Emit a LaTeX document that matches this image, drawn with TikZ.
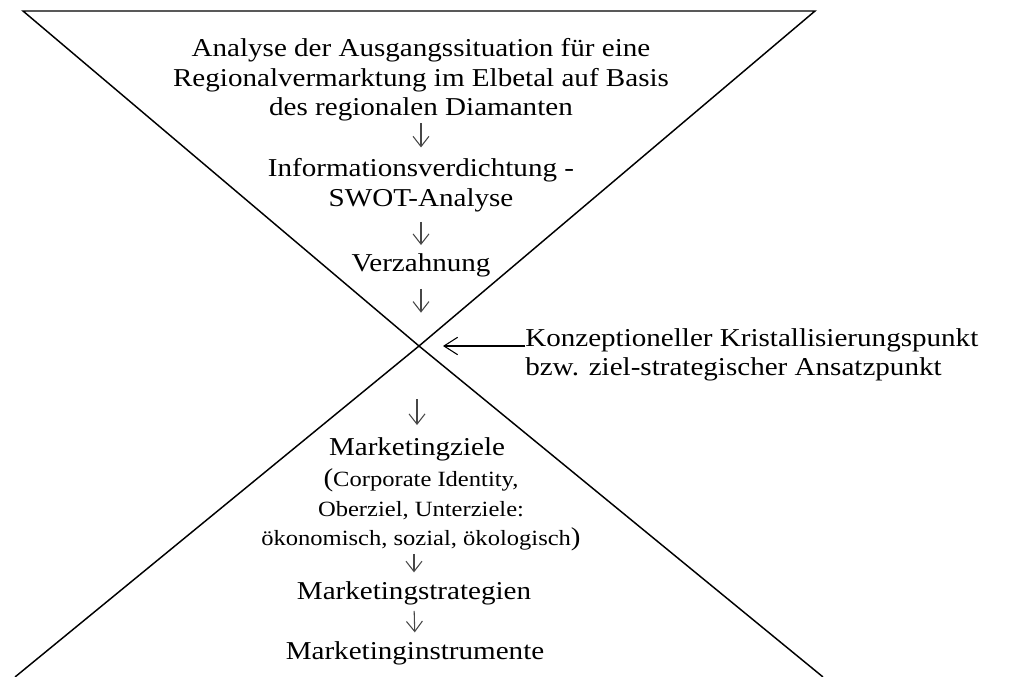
\documentclass[tikz,border=0pt]{standalone}
\usepackage{fontspec}
\setmainfont{Liberation Serif}[FakeStretch=1.13]
\usetikzlibrary{arrows.meta,positioning,calc}
\newcommand{\bigtext}{\fontsize{19.3}{22.2}\selectfont}
\newcommand{\smalltext}{\fontsize{16.3}{22}\selectfont}
\tikzset{
  rim/.style={line width=1.1pt,line join=miter},
  stage/.style={align=center,inner sep=0pt,font=\bigtext},
  stagesmall/.style={stage,font=\smalltext},
  flow/.style={draw=black!72,line width=0.8pt,
    -{Straight Barb[length=2.7mm,width=4.2mm,line width=0.8pt]}},
  pointer/.style={line width=0.8pt,
    -{Straight Barb[length=3.6mm,width=4.6mm,line width=0.8pt]}}
}
\begin{document}
\begin{tikzpicture}[x=0.75pt,y=-0.75pt]
  \useasboundingbox (0,0) rectangle (1014,677);

  % hourglass
  \coordinate (tl) at (23,11);
  \coordinate (tr) at (815,11);
  \coordinate (kreuz) at (419,346);
  \coordinate (bl) at (15,677);
  \coordinate (br) at (823,677);
  \draw[rim] (tl) -- (tr) -- (kreuz) -- cycle;
  \draw[rim] (bl) -- (kreuz) -- (br);

  % stages
  \node[stage] (analyse) at (421,80) {Analyse der Ausgangssituation für eine\\
                                      Regionalvermarktung im Elbetal auf Basis\\
                                      des regionalen Diamanten};
  \node[stage] (swot) at (421,185) {Informationsverdichtung -\\SWOT-Analyse};
  \node[stage] (verzahnung) at (421,265) {Verzahnung};
  \node[stage] (ziele) at (417,449) {Marketingziele};
  \node[stagesmall] (zieldetail) at (421,510) {{\bigtext(}Corporate Identity,\\
                                               Oberziel, Unterziele:\\
                                               ökonomisch, sozial, ökologisch{\bigtext)}};
  \node[stage] (strategien) at (414,593) {Marketingstrategien};
  \node[stage] (instrumente) at (415,653) {Marketinginstrumente};
  \node[stage,align=left,anchor=west] (ansatz) at (525,355) {Konzeptioneller Kristallisierungspunkt\\
                                                             bzw. ziel-strategischer Ansatzpunkt};

  % arrows
  \draw[flow,shorten <=1pt,shorten >=8pt] (analyse.south -| swot.north) -- (swot.north);
  \draw[flow,shorten <=7.5pt,shorten >=6pt] (swot.south) -- (verzahnung.north);
  \draw[flow,shorten <=9pt,shorten >=25pt] (verzahnung.south) -- (verzahnung.south |- kreuz);
  \draw[flow,shorten <=40pt,shorten >=9pt] (ziele.north |- kreuz) -- (ziele.north);
  \draw[flow,shorten <=2pt,shorten >=6.5pt] (zieldetail.south -| strategien.north) -- (strategien.north);
  \draw[flow,shorten <=4.5pt,shorten >=6.5pt] (strategien.south) -- (instrumente.north);
  \draw[pointer,shorten >=18pt] (ansatz.west |- kreuz) -- (kreuz);
\end{tikzpicture}
\end{document}
